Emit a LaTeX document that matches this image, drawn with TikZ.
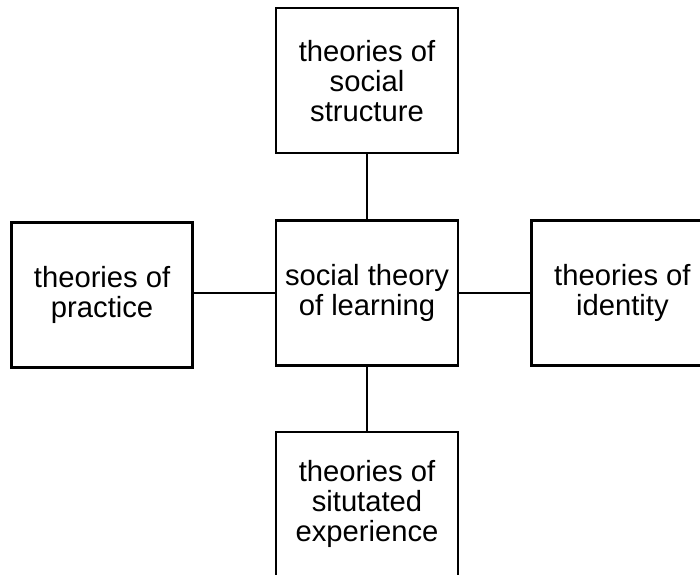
\documentclass[tikz,border=0pt]{standalone}
\usepackage{fontspec}
\setmainfont{Liberation Sans}
\usetikzlibrary{positioning}

\begin{document}
\begin{tikzpicture}[
			x=0.5pt, y=0.5pt,
			theory/.style={draw, line width=1.2pt, minimum width=91pt, minimum height=72.5pt,
				align=center, inner sep=0pt, font=\fontsize{14.6}{15}\selectfont},
			link/.style={line width=1.2pt}
			]
			\clip (0,0) rectangle (700,574);
			% Centro
			\node[theory] (learning) at (367,281) {social theory\\of learning};
			% Quattro teorie attorno
			\node[theory, above=32.5pt of learning] (structure) {theories of\\social\\structure};
			\node[theory, minimum width=90.5pt, left=40.5pt of learning, yshift=-1pt] (practice) {theories of\\practice};
			\node[theory, right=35.5pt of learning] (identity) {theories of\\identity};
			\node[theory, below=32pt of learning] (experience) {theories of\\situtated\\experience};
			% Collegamenti
			\draw[link] (learning) -- (structure);
			\draw[link] (learning.west) -- (learning.west -| practice.east);
			\draw[link] (learning) -- (identity);
			\draw[link] (learning) -- (experience);
		\end{tikzpicture}
\end{document}
